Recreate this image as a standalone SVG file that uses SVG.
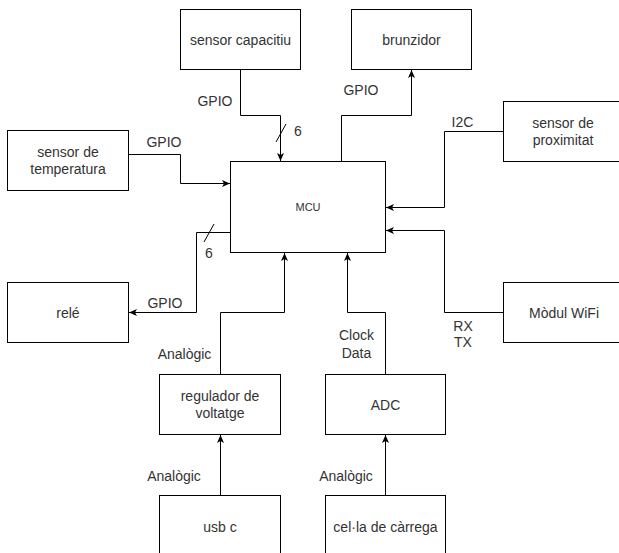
<svg xmlns="http://www.w3.org/2000/svg" width="619" height="553" viewBox="0 0 619 553">
<style>
.box{fill:#fff;stroke:#000;stroke-width:1}
.t{font-family:"Liberation Sans",Arial,sans-serif;font-size:14px;fill:#333;text-anchor:middle}
.s{font-size:11px}
.c{fill:none;stroke:#000;stroke-width:1}
</style>
<defs>
<marker id="a" markerUnits="userSpaceOnUse" markerWidth="9" markerHeight="8" refX="8" refY="4" orient="auto">
<path d="M0,0.5 L8,4 L0,7.5 L2,4 z" fill="#000"/>
</marker>
</defs>
<rect width="619" height="553" fill="#fff"/>
<g id="connectors">
<path class="c" d="M240.5 69.5 V115.5 H280.5 V161" marker-end="url(#a)"/>
<line class="c" x1="276" y1="142" x2="286" y2="124"/>
<path class="c" d="M341.5 161.5 V115.5 H411.5 V70" marker-end="url(#a)"/>
<path class="c" d="M128.5 154.5 H180.5 V183.5 H230" marker-end="url(#a)"/>
<path class="c" d="M230.5 232.5 H196.5 V312.5 H129" marker-end="url(#a)"/>
<line class="c" x1="204" y1="242" x2="214" y2="224"/>
<path class="c" d="M503.5 131.5 H444.5 V207.5 H386" marker-end="url(#a)"/>
<path class="c" d="M503.5 312.5 H444.5 V230.5 H386" marker-end="url(#a)"/>
<path class="c" d="M220.5 374.5 V312.5 H284.5 V253" marker-end="url(#a)"/>
<path class="c" d="M385.5 374.5 V312.5 H347.5 V253" marker-end="url(#a)"/>
<path class="c" d="M220.5 495.5 V435" marker-end="url(#a)"/>
<path class="c" d="M385.5 495.5 V435" marker-end="url(#a)"/>
<text class="t" x="215" y="106">GPIO</text>
<text class="t" x="298" y="136">6</text>
<text class="t" x="361" y="95">GPIO</text>
<text class="t" x="164" y="146.5">GPIO</text>
<text class="t" x="209" y="257.5">6</text>
<text class="t" x="165" y="307.5">GPIO</text>
<text class="t" x="462.5" y="126.5">I2C</text>
<text class="t" x="463" y="330.5">RX</text>
<text class="t" x="463" y="347">TX</text>
<text class="t" x="184.5" y="359">Analògic</text>
<text class="t" x="356.5" y="340">Clock</text>
<text class="t" x="356.5" y="358">Data</text>
<text class="t" x="174" y="480.5">Analògic</text>
<text class="t" x="346" y="480.5">Analògic</text>
</g>
<g id="sensor-capacitiu"><rect class="box" x="180.5" y="9.5" width="120" height="60"/><text class="t" x="240.5" y="45">sensor capacitiu</text></g>
<g id="brunzidor"><rect class="box" x="351.5" y="9.5" width="120" height="60"/><text class="t" x="411.5" y="45">brunzidor</text></g>
<g id="sensor-temperatura"><rect class="box" x="7.5" y="130.5" width="121" height="60"/><text class="t" x="68" y="157">sensor de</text><text class="t" x="68" y="174">temperatura</text></g>
<g id="rele"><rect class="box" x="7.5" y="282.5" width="121" height="60"/><text class="t" x="68" y="317.5">relé</text></g>
<g id="mcu"><rect class="box" x="230.5" y="161.5" width="155" height="91"/><text class="t s" x="308" y="211">MCU</text></g>
<g id="sensor-proximitat"><rect class="box" x="503.5" y="101.5" width="120" height="60"/><text class="t" x="563" y="128">sensor de</text><text class="t" x="563" y="145">proximitat</text></g>
<g id="modul-wifi"><rect class="box" x="503.5" y="282.5" width="120" height="60"/><text class="t" x="564" y="317.5">Mòdul WiFi</text></g>
<g id="regulador"><rect class="box" x="159.5" y="374.5" width="121" height="60"/><text class="t" x="220" y="401">regulador de</text><text class="t" x="220" y="418">voltatge</text></g>
<g id="adc"><rect class="box" x="325.5" y="374.5" width="120" height="60"/><text class="t" x="385.5" y="409.5">ADC</text></g>
<g id="usb-c"><rect class="box" x="159.5" y="495.5" width="121" height="60"/><text class="t" x="220" y="531.5">usb c</text></g>
<g id="cella"><rect class="box" x="325.5" y="495.5" width="120" height="60"/><text class="t" x="385.5" y="531.5">cel·la de càrrega</text></g>
</svg>
